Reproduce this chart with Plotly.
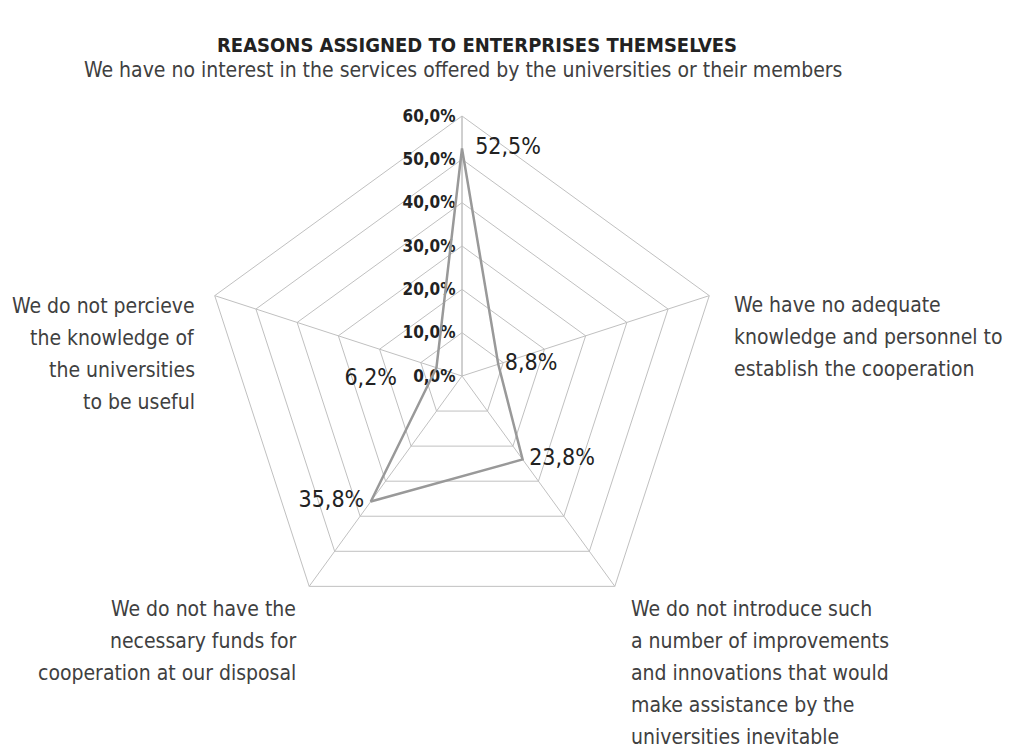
import plotly.graph_objects as go

# ---- data ----
categories = [
    "We have no interest in the services offered by the universities or their members",
    "We have no adequate knowledge and personnel to establish the cooperation",
    "We do not introduce such a number of improvements and innovations that would make assistance by the universities inevitable",
    "We do not have the necessary funds for cooperation at our disposal",
    "We do not percieve the knowledge of the universities to be useful",
]
values = [52.5, 8.8, 23.8, 35.8, 6.2]
value_labels = ["52,5%", "8,8%", "23,8%", "35,8%", "6,2%"]
tick_values = [0, 10, 20, 30, 40, 50, 60]
tick_labels = ["0,0%", "10,0%", "20,0%", "30,0%", "40,0%", "50,0%", "60,0%"]
title_text = "REASONS ASSIGNED TO ENTERPRISES THEMSELVES"

# category label lines as they are broken in the chart
label_lines = [
    ["We have no interest in the services offered by the universities or their members"],
    ["We have no adequate", "knowledge and personnel to", "establish the cooperation"],
    ["We do not introduce such", "a number of improvements", "and innovations that would",
     "make assistance by the", "universities inevitable"],
    ["We do not have the", "necessary funds for", "cooperation at our disposal"],
    ["We do not percieve", "the knowledge of", "the universities", "to be useful"],
]

W, H = 1014, 747
OFF = 8  # page body margin of the browser
COND = "DejaVu Sans Condensed, Liberation Sans Narrow, Arial Narrow, sans-serif"
NB = "\u00a0"


def px(x, y):
    """screen pixel -> paper fraction"""
    return (x - OFF) / W, 1 - (y - OFF) / H


# label padding so the value labels sit where they sit in the chart
label_text = [NB * 2 + value_labels[0], NB + value_labels[1], NB + value_labels[2],
              value_labels[3] + NB, value_labels[4] + NB * 6]

fig = go.Figure()
fig.add_trace(go.Scatterpolar(
    r=values + [values[0]],
    theta=categories + [categories[0]],
    mode="lines+text",
    text=label_text + [""],
    textposition=["middle right", "middle right", "middle right", "middle left", "bottom left", "middle right"],
    textfont=dict(family=COND, size=23, color="#222222"),
    line=dict(color="#999999", width=2.5),
    hoverinfo="skip",
    showlegend=False,
))

cx, cy, R = 462, 376, 260
x0, y1 = px(cx - R, cy - R)
x1, y0 = px(cx + R, cy + R)

fig.update_layout(
    width=W, height=H,
    margin=dict(l=0, r=0, t=0, b=0),
    paper_bgcolor="white",
    plot_bgcolor="white",
    polar=dict(
        domain=dict(x=[x0, x1], y=[y0, y1]),
        bgcolor="white",
        gridshape="linear",
        radialaxis=dict(
            range=[0, 60],
            tickvals=tick_values,
            ticktext=tick_labels,
            angle=90,
            tickangle=90,
            side="counterclockwise",
            showline=True,
            linecolor="#c0c0c0",
            linewidth=1,
            gridcolor="#c0c0c0",
            gridwidth=1,
            ticks="",
            tickfont=dict(family=COND, size=17, color="#222222", weight="bold"),
            layer="below traces",
        ),
        angularaxis=dict(
            direction="clockwise",
            rotation=90,
            showticklabels=False,
            ticks="",
            showline=True,
            linecolor="#c0c0c0",
            linewidth=1,
            gridcolor="#c0c0c0",
            gridwidth=1,
            layer="below traces",
        ),
    ),
)

annotations = []
tx, ty = px(477, 45)
annotations.append(dict(text="<b>" + title_text + "</b>", x=tx, y=ty, xref="paper", yref="paper",
                        xanchor="center", yanchor="middle", showarrow=False,
                        font=dict(family=COND, size=20, color="#222222")))

# anchor (x, first line center y, xanchor) for each category label block
anchors = [(463, 70, "center"), (732, 305, "left"), (629, 609, "left"),
           (298, 609, "right"), (197, 306, "right")]
line_gap = 32
for lines, (ax, ay, xa) in zip(label_lines, anchors):
    for i, ln in enumerate(lines):
        x, y = px(ax, ay + i * line_gap)
        annotations.append(dict(text=ln, x=x, y=y, xref="paper", yref="paper",
                                xanchor=xa, yanchor="middle", showarrow=False,
                                font=dict(family=COND, size=21, color="#404040")))
fig.update_layout(annotations=annotations)

fig.write_html("out.html")
